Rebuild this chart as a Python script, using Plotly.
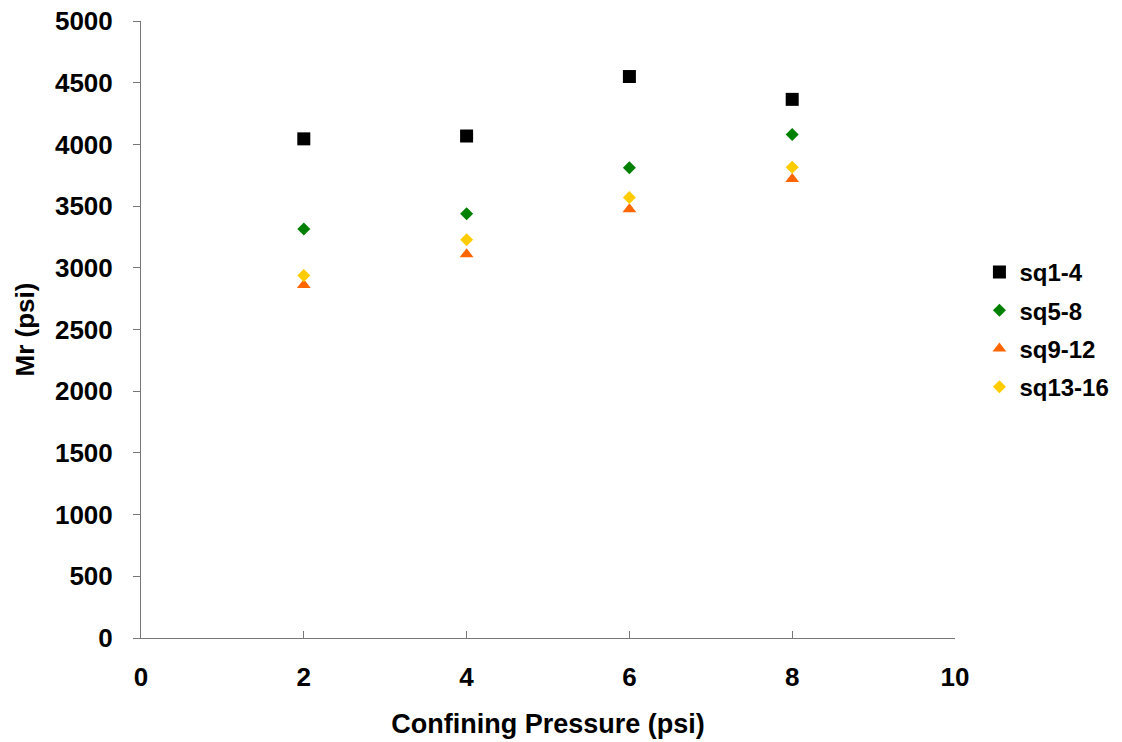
import plotly.graph_objects as go

# Confining pressure (psi) and resilient modulus (psi) for each specimen group
pressure = [2, 4, 6, 8]
sq1_4 = [4045, 4068, 4550, 4365]
sq5_8 = [3315, 3437, 3810, 4080]
sq9_12 = [2860, 3110, 3475, 3720]
sq13_16 = [2938, 3227, 3570, 3814]

series = [
    ("sq1-4", sq1_4, "square", "#000000", 13),
    ("sq5-8", sq5_8, "diamond", "#008000", 10),
    ("sq9-12", sq9_12, "triangle-up", "#FF6600", 12),
    ("sq13-16", sq13_16, "diamond", "#FFCC00", 10),
]

FONT = "Liberation Sans, Arial, sans-serif"


def bold(size):
    return dict(family=FONT, size=size, color="black", weight=700)


fig = go.Figure()
for i, (name, vals, sym, col, sz) in enumerate(series):
    fig.add_trace(go.Scatter(
        x=pressure, y=vals, mode="markers", name=name,
        legendgroup=f"g{i}",
        marker=dict(symbol=sym, color=col, size=sz, line=dict(width=0)),
    ))

fig.update_layout(
    width=1122, height=742,
    margin=dict(l=141, r=167, t=21, b=104, autoexpand=False),
    plot_bgcolor="white", paper_bgcolor="white",
    font=bold(26),
    legend=dict(
        x=1.03, xanchor="left", y=0.5, yanchor="middle",
        font=bold(24),
        tracegroupgap=4, itemwidth=30,
    ),
    xaxis=dict(
        range=[0, 10], tickvals=[0, 2, 4, 6, 8, 10],
        showgrid=False, zeroline=False, automargin=False,
        showline=True, linecolor="#777777", linewidth=1,
        ticks="inside", ticklen=7, tickcolor="#777777",
        ticklabelstandoff=16,
        tickfont=bold(26),
        title=dict(text="Confining Pressure (psi)", standoff=22, font=bold(27)),
    ),
    yaxis=dict(
        range=[0, 5000], tickvals=list(range(0, 5001, 500)),
        showgrid=False, zeroline=False, automargin=False,
        showline=True, linecolor="#777777", linewidth=1,
        ticks="outside", ticklen=7, tickcolor="#777777",
        ticklabelstandoff=15,
        tickfont=bold(26),
        title=dict(text="Mr (psi)", standoff=12, font=bold(26)),
    ),
)

fig.write_html("out.html")
